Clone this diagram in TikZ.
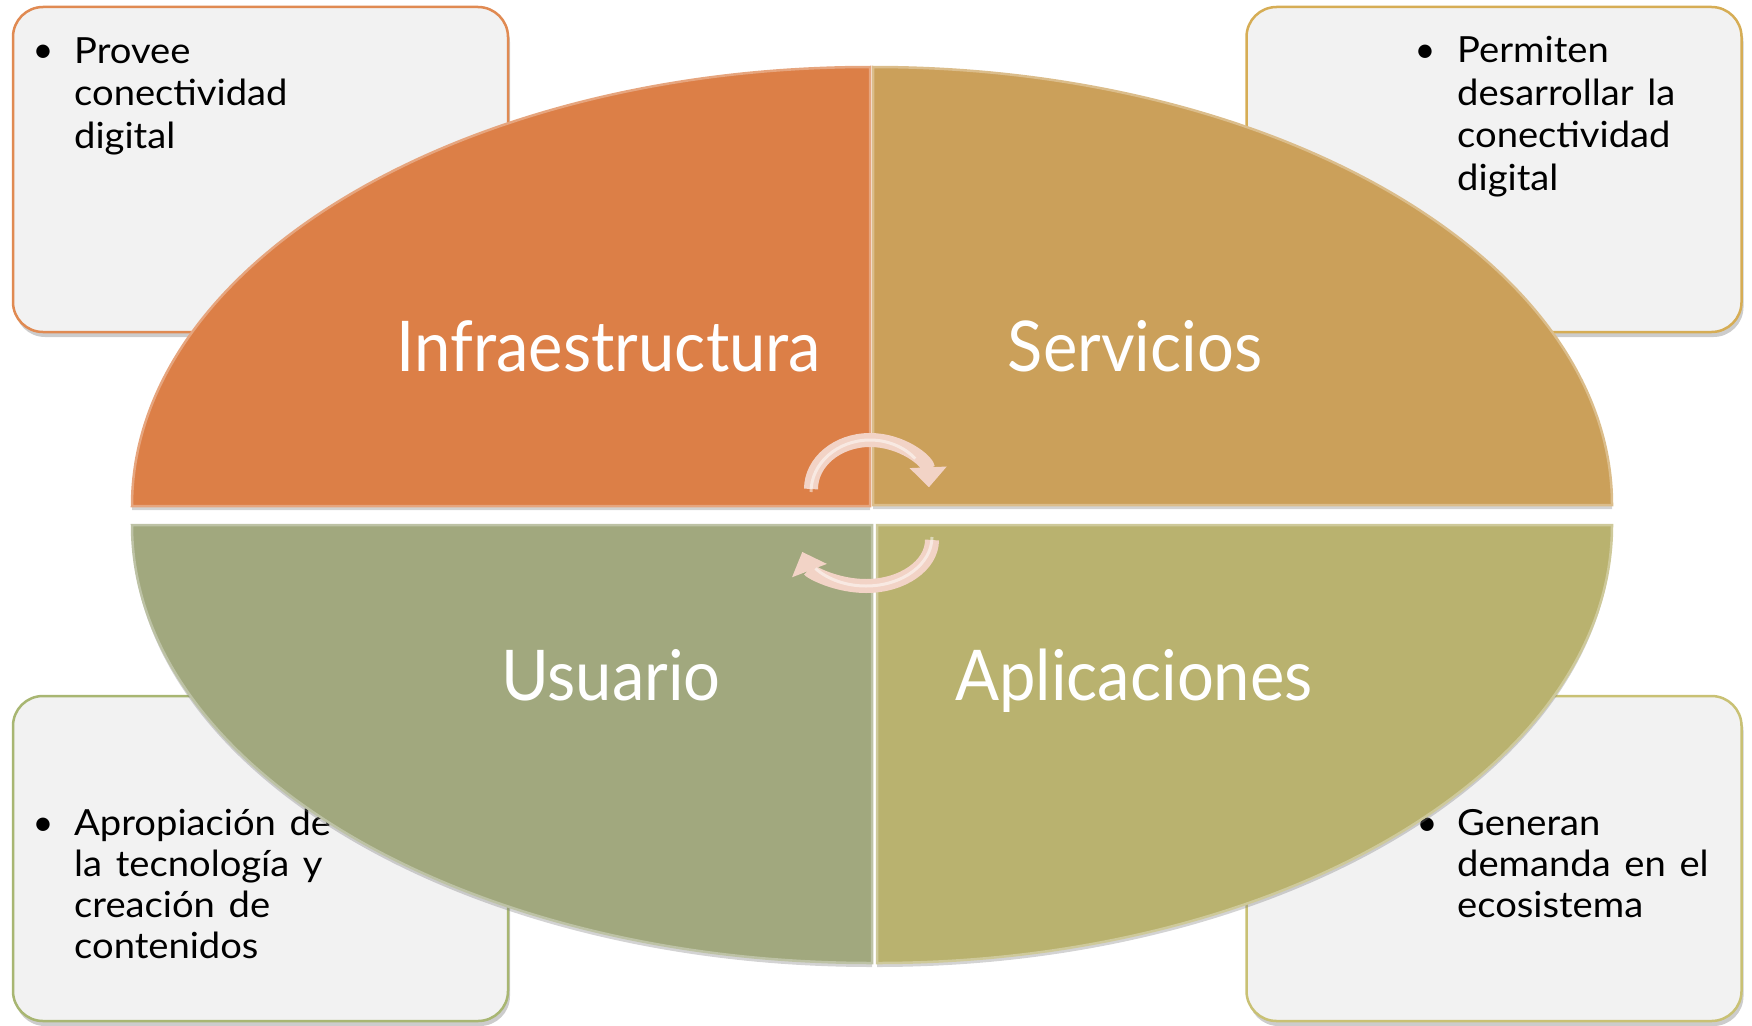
\documentclass[tikz,border=0pt]{standalone}
\usepackage{fontspec}
\setmainfont{Lato}
\newfontfamily\titlefont{Lato}[FakeStretch=0.93]
\newfontfamily\bodyfont{Lato}[FakeStretch=1.06,WordSpace=1.4]
\usetikzlibrary{arrows.meta,shadows}
\definecolor{cInfra}{HTML}{DC7F47}
\definecolor{cServ}{HTML}{CBA05A}
\definecolor{cUsu}{HTML}{A1A87E}
\definecolor{cApl}{HTML}{B9B26F}
\definecolor{boxfill}{HTML}{F2F2F2}
\definecolor{arrowc}{HTML}{F2D3C6}
\definecolor{bTL}{HTML}{E08A52}
\definecolor{bTR}{HTML}{D6AD55}
\definecolor{bBL}{HTML}{A8B672}
\definecolor{bBR}{HTML}{C9C174}
\begin{document}
\begin{tikzpicture}[x=1pt,y=-1pt,
  infobox/.style={rounded corners=30pt, fill=boxfill, line width=2.5pt, minimum width=495pt, minimum height=325pt, inner sep=0pt,
    drop shadow={shadow xshift=2pt,shadow yshift=-5pt,opacity=0.4}},
  quad/.style={line width=2.5pt, drop shadow={shadow xshift=0pt,shadow yshift=-4pt,opacity=0.35}},
  title/.style={text=white, font=\titlefont\fontsize{70}{80}\selectfont, inner sep=0pt, anchor=base},
  bodytext/.style={font=\bodyfont\fontsize{36}{42.5}\selectfont, align=left, anchor=base west, inner sep=0pt},
  bodytextb/.style={font=\bodyfont\fontsize{36}{41}\selectfont, align=left, anchor=base west, inner sep=0pt},
  bulletmark/.style={font=\fontsize{36}{42}\selectfont, anchor=base, inner sep=0pt},
  cyc/.style={line width=14pt, draw=arrowc, -{Triangle[length=20pt,width=36pt]}},
  cychl/.style={line width=3pt, draw=white, opacity=0.5}
]
\useasboundingbox (0,0) rectangle (1752,1025);
% info boxes
\node[infobox, draw=bTL] (boxTL) at (260.5,169.5) {};
\node[infobox, draw=bTR] (boxTR) at (1494,169.5) {};
\node[infobox, draw=bBL] (boxBL) at (260.5,858.5) {};
\node[infobox, draw=bBR] (boxBR) at (1494,858.5) {};
% box texts (anchor is the baseline of the last line)
\node[bulletmark] (bulTL) at (43,63) {•};
\node[bodytext] (txtTL) at (74,148) {Provee\\conectividad\\digital};
\node[bulletmark] (bulTR) at (1425,63) {•};
\node[bodytext] (txtTR) at (1457,190) {Permiten\\desarrollar la\\conectividad\\digital};
\node[bulletmark] (bulBL) at (43,835) {•};
\node[bodytextb] (txtBL) at (74,958) {Apropiación de\\la tecnología y\\creación de\\contenidos};
\node[bulletmark] (bulBR) at (1427,835) {•};
\node[bodytextb] (txtBR) at (1457,917) {Generan\\demanda en el\\ecosistema};
% ellipse quadrants
\filldraw[quad, fill=cInfra, draw=cInfra!70!white] (870,506) -- (132,506) arc[start angle=180,end angle=270,x radius=738,y radius=439] -- cycle;
\filldraw[quad, fill=cServ, draw=cServ!70!white] (873,505) -- (873,67) arc[start angle=270,end angle=360,x radius=739,y radius=438] -- cycle;
\filldraw[quad, fill=cUsu, draw=cUsu!70!white] (872,525) -- (132,525) arc[start angle=180,end angle=90,x radius=740,y radius=438] -- cycle;
\filldraw[quad, fill=cApl, draw=cApl!70!white] (877,525) -- (877,963) arc[start angle=90,end angle=0,x radius=735,y radius=438] -- cycle;
% titles
\node[title] (tInfra) at (609,371) {Infraestructura};
\node[title] (tServ) at (1135,371) {Servicios};
\node[title] (tUsu) at (611,700) {Usuario};
\node[title] (tApl) at (1134,700) {Aplicaciones};
% cycle arrows
\coordinate (cTop) at (811,489);
\coordinate (cBot) at (932,540);
\draw[cyc] (cTop) arc[start angle=180,end angle=358,x radius=59,y radius=49];
\draw[cychl] ([yshift=-3pt]cTop) arc[start angle=180,end angle=320,x radius=59,y radius=52];
\draw[cyc] (cBot) arc[start angle=0,end angle=165,x radius=66,y radius=46];
\draw[cychl] ([yshift=3pt]cBot) arc[start angle=0,end angle=140,x radius=66,y radius=49];
\end{tikzpicture}
\end{document}
